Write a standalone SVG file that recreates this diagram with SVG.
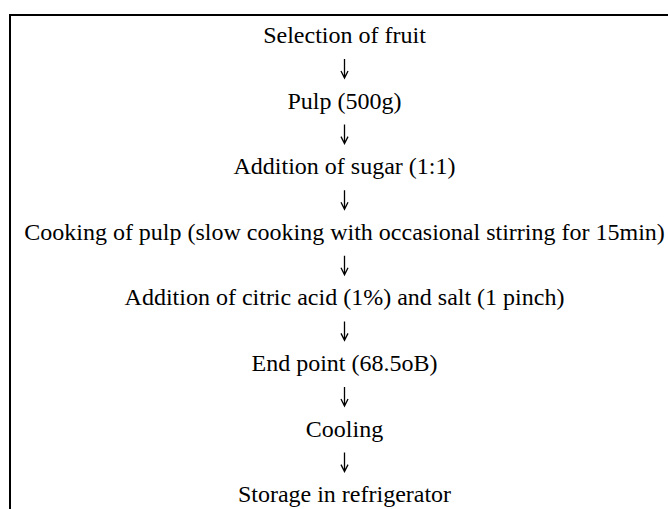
<svg xmlns="http://www.w3.org/2000/svg" width="668" height="509" viewBox="0 0 668 509">
<style>
.t{font-family:"Liberation Serif","Times New Roman",serif;font-size:24px;fill:#000;text-anchor:middle}
.a{fill:none;stroke:#000;stroke-width:1.3}
</style>
<defs>
<path id="arr" d="M0,-17 V2 M-3.5,-5 L0,2 L3.5,-5"/>
</defs>
<rect width="668" height="509" fill="#fff"/>
<path d="M10,509 V15 H668" fill="none" stroke="#000" stroke-width="2"/>
<g id="n1"><text class="t" x="344.5" y="43">Selection of fruit</text></g>
<g id="n2"><text class="t" x="344.5" y="108.6">Pulp (500g)</text></g>
<g id="n3"><text class="t" x="344.5" y="174.2">Addition of sugar (1:1)</text></g>
<g id="n4"><text class="t" x="344.5" y="239.8">Cooking of pulp (slow cooking with occasional stirring for 15min)</text></g>
<g id="n5"><text class="t" x="344.5" y="305.4">Addition of citric acid (1%) and salt (1 pinch)</text></g>
<g id="n6"><text class="t" x="344.5" y="371">End point (68.5oB)</text></g>
<g id="n7"><text class="t" x="344.5" y="436.6">Cooling</text></g>
<g id="n8"><text class="t" x="344.5" y="502.2">Storage in refrigerator</text></g>
<g id="connectors" class="a">
<use href="#arr" x="344.5" y="76"/>
<use href="#arr" x="344.5" y="141.6"/>
<use href="#arr" x="344.5" y="207.2"/>
<use href="#arr" x="344.5" y="272.8"/>
<use href="#arr" x="344.5" y="338.4"/>
<use href="#arr" x="344.5" y="404"/>
<use href="#arr" x="344.5" y="469.6"/>
</g>
</svg>
